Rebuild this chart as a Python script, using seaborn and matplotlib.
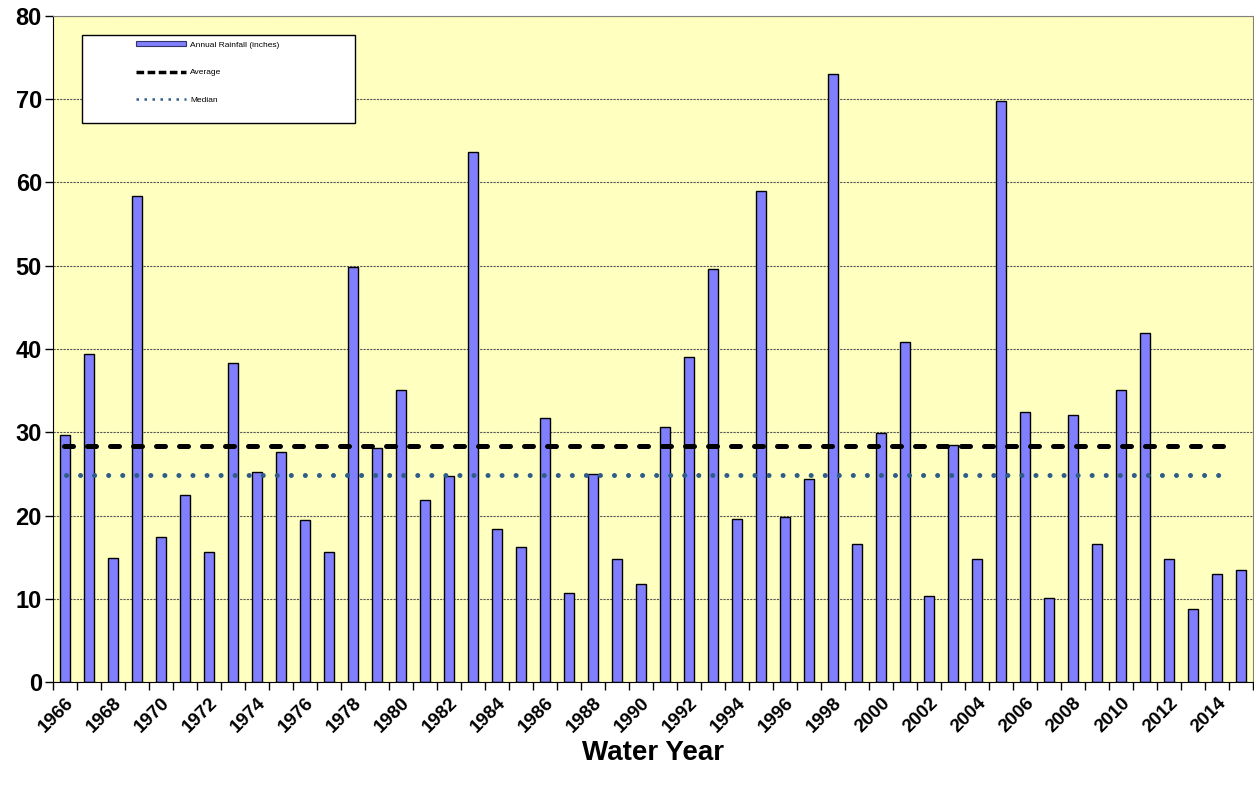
import matplotlib
matplotlib.use('Agg')
import matplotlib.pyplot as plt
from matplotlib.patches import Patch, Rectangle
from matplotlib.lines import Line2D
import numpy as np
import pandas as pd
import seaborn as sns

plt.rcParams['font.family'] = ['Liberation Sans', 'DejaVu Sans']

# water years and annual rainfall (inches)
years = list(range(1966, 2016))
rainfall = [29.65, 39.4, 14.9, 58.4, 17.4, 22.45, 15.6, 38.3, 25.2, 27.7,
            19.5, 15.7, 49.9, 28.1, 35.05, 21.9, 24.8, 63.7, 18.4, 16.2,
            31.7, 10.7, 25.0, 14.8, 11.8, 30.6, 39.1, 49.6, 19.6, 59.0,
            19.9, 24.4, 73.0, 16.6, 29.9, 40.85, 10.4, 28.5, 14.8, 69.8,
            32.5, 10.1, 32.05, 16.6, 35.05, 41.9, 14.8, 8.8, 13.0, 13.45]
y_ticks = [0, 10, 20, 30, 40, 50, 60, 70, 80]

BAR_COLOR = '#8080FF'
MEDIAN_COLOR = '#2F5D8A'

df = pd.DataFrame({'year': years, 'rain': rainfall})
average = np.mean(rainfall)
median = np.median(rainfall)

fig = plt.figure(figsize=(12.54, 7.94), dpi=100)
ax = fig.add_axes([0.0423, 0.1407, 0.957, 0.8393])
ax.set_facecolor('#FFFFC0')

sns.barplot(data=df, x='year', y='rain', color=BAR_COLOR, saturation=1,
            width=0.4, edgecolor='black', linewidth=1, ax=ax, zorder=2)

n = len(years)
ax.plot([-0.05, n - 1.3], [average, average], color='black', linewidth=3.6,
        linestyle=(0, (1.8, 2.8)), dash_capstyle='round', zorder=3)
ax.plot([0.05, n - 1.45], [median, median], color=MEDIAN_COLOR, linewidth=3.6,
        linestyle=(0, (0.01, 2.8)), dash_capstyle='round', zorder=3)

ax.set_xlim(-0.5, n - 0.5)
ax.set_ylim(0, 80)
ax.set_yticks(y_ticks)
ax.set_yticklabels([str(t) for t in y_ticks], fontsize=17, fontweight='bold')
ax.tick_params(axis='y', length=6, width=1, pad=2)

ax.set_xticks(range(0, n, 2))
ax.set_xticklabels([str(y) for y in years[::2]], rotation=45, ha='right',
                   rotation_mode='anchor', fontsize=13.5, fontweight='bold')
ax.set_xticks(np.arange(-0.5, n, 1), minor=True)
ax.tick_params(axis='x', which='major', length=0, pad=9)
ax.tick_params(axis='x', which='minor', length=6, width=1)

ax.yaxis.grid(True, linestyle=(0, (2, 1)), color='#555555', linewidth=0.8)
ax.set_axisbelow(True)

for side in ['top', 'right']:
    ax.spines[side].set_color('#808080')
for side in ['left', 'bottom']:
    ax.spines[side].set_color('black')

ax.set_xlabel('Water Year', fontsize=20, fontweight='bold', labelpad=3)
ax.set_ylabel('')

# legend box
ax.add_patch(Rectangle((0.024, 0.839), 0.228, 0.132, transform=ax.transAxes,
                       facecolor='white', edgecolor='black', linewidth=1,
                       zorder=4))
handles = [Patch(facecolor=BAR_COLOR, edgecolor='#333366', linewidth=0.8),
           Line2D([], [], color='black', linewidth=2.5, linestyle=(0, (2.2, 1))),
           Line2D([], [], color=MEDIAN_COLOR, linewidth=1.8,
                  linestyle=(0, (1, 2.2)))]
leg = ax.legend(handles, ['Annual Rainfall (inches)', 'Average', 'Median'],
                frameon=False, loc='upper left', bbox_to_anchor=(0.069, 0.962),
                borderpad=0, borderaxespad=0, handlelength=6, handleheight=0.6,
                handletextpad=0.5, labelspacing=2.4, fontsize=6)
leg.set_zorder(5)

plt.savefig('out.png', dpi=100)
